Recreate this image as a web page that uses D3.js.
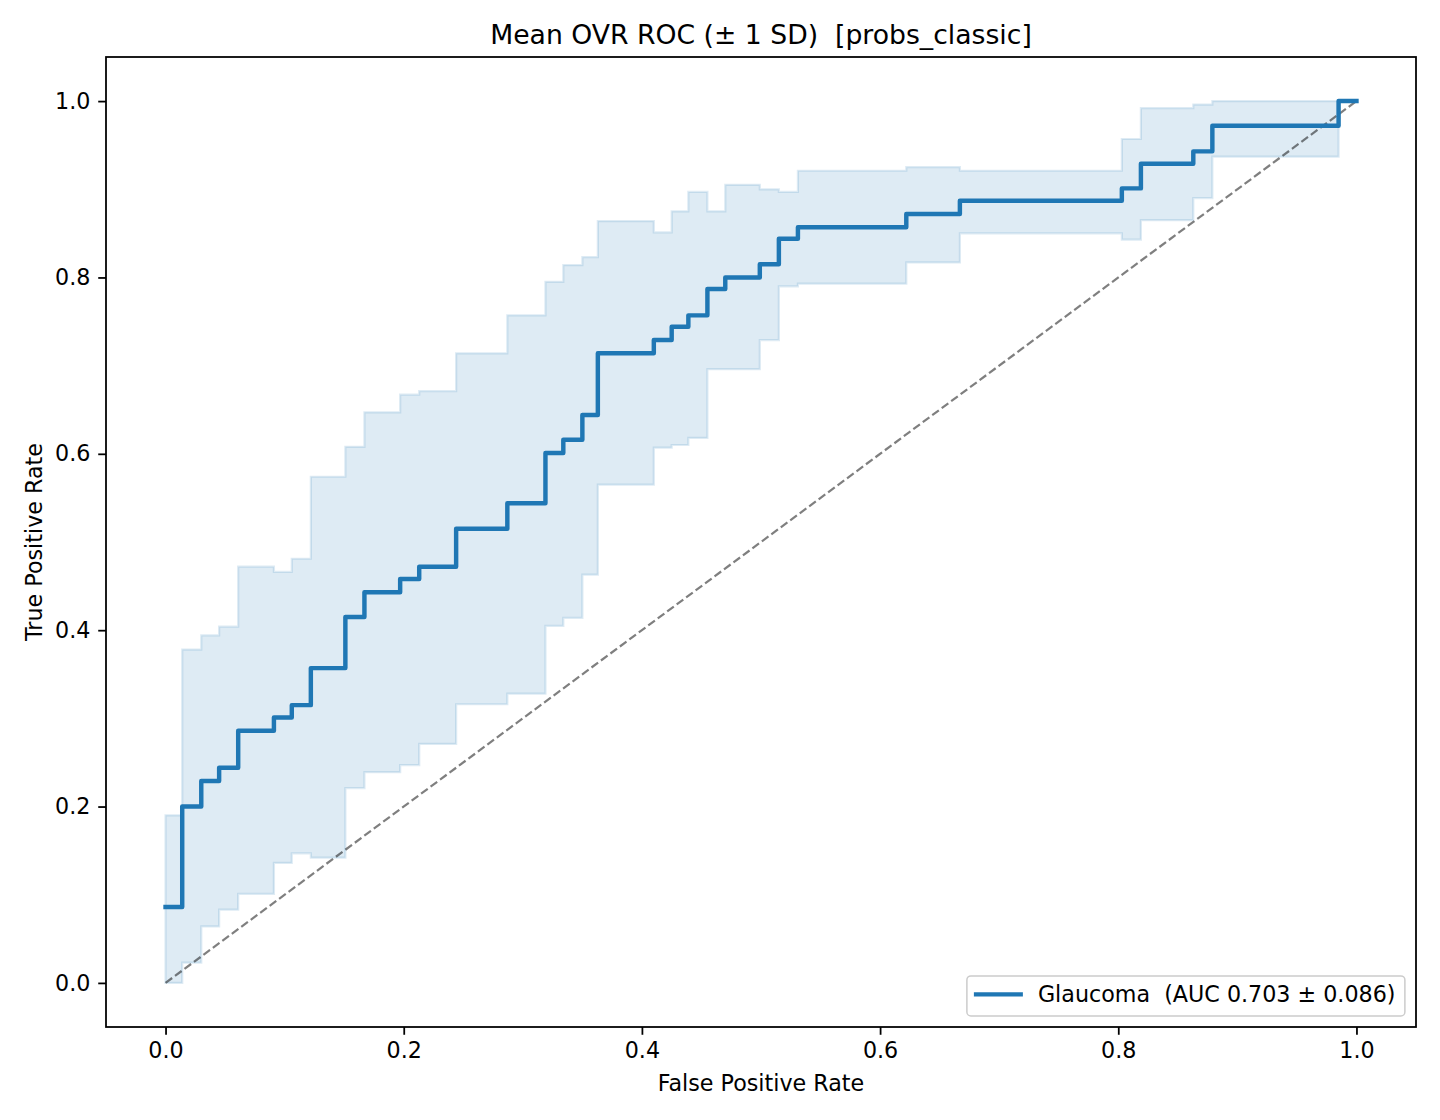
<!DOCTYPE html>
<html>
<head>
<meta charset="utf-8">
<script src="https://cdn.jsdelivr.net/npm/d3@7"></script>
<style>
  html, body { margin: 0; padding: 0; background: #fff; }
  svg { display: block; font-family: 'DejaVu Sans', sans-serif; }
  text { white-space: pre; }
</style>
</head>
<body>
<svg id="chart" width="1440" height="1120"></svg>
<script>
// values (mean ROC on the common FPR grid, step-wise)
const fprBreaks = [
  0.000, 0.014, 0.030, 0.045, 0.061, 0.091, 0.106, 0.122, 0.151, 0.167,
  0.197, 0.213, 0.244, 0.287, 0.319, 0.334, 0.350, 0.363, 0.410, 0.425,
  0.439, 0.455, 0.470, 0.499, 0.515, 0.531, 0.622, 0.667, 0.803, 0.819,
  0.863, 0.879, 0.985, 1.000
];
const tprMean = [
  0.086, 0.200, 0.229, 0.244, 0.286, 0.301, 0.315, 0.357, 0.415, 0.443,
  0.458, 0.472, 0.515, 0.544, 0.601, 0.616, 0.644, 0.714, 0.729, 0.744,
  0.757, 0.787, 0.800, 0.815, 0.844, 0.857, 0.872, 0.887, 0.901, 0.929,
  0.943, 0.972, 1.000, 1.000
];
const tprUpper = [
  0.190, 0.378, 0.394, 0.404, 0.472, 0.466, 0.481, 0.574, 0.608, 0.647,
  0.667, 0.671, 0.714, 0.757, 0.795, 0.814, 0.823, 0.864, 0.851, 0.875,
  0.897, 0.875, 0.905, 0.900, 0.897, 0.921, 0.925, 0.921, 0.957, 0.992,
  0.996, 1.000, 1.000, 1.000
];
const tprLower = [
  0.000, 0.023, 0.064, 0.083, 0.101, 0.136, 0.147, 0.142, 0.221, 0.239,
  0.247, 0.271, 0.316, 0.328, 0.405, 0.414, 0.463, 0.565, 0.607, 0.610,
  0.618, 0.696, 0.696, 0.729, 0.790, 0.793, 0.817, 0.850, 0.843, 0.865,
  0.890, 0.937, 1.000, 1.000
];
const chanceLine = [0, 1];

const xTicks = [0.0, 0.2, 0.4, 0.6, 0.8, 1.0];
const yTicks = [0.0, 0.2, 0.4, 0.6, 0.8, 1.0];

const titleText = 'Mean OVR ROC (\u00b1 1 SD)  [probs_classic]';
const xLabel = 'False Positive Rate';
const yLabel = 'True Positive Rate';
const legendLabel = 'Glaucoma  (AUC 0.703 \u00b1 0.086)';

const blue = '#1f77b4';
const pt = 160 / 72; // figure was 160 dpi
const fontSize = 10 * pt;

const margin = { top: 57, right: 24, bottom: 93, left: 106 };
const W = 1440;
const H = 1120;

const svg = d3.select('#chart');

const x = d3.scaleLinear().domain([-0.05, 1.05]).range([margin.left, W - margin.right]);
const y = d3.scaleLinear().domain([-0.05, 1.05]).range([H - margin.bottom, margin.top]);

const rocData = fprBreaks.map((f, i) => ({
  fpr: f,
  mean: tprMean[i],
  hi: tprUpper[i],
  lo: tprLower[i]
}));

function drawBand() {
  const area = d3
    .area()
    .curve(d3.curveStepAfter)
    .x(d => x(d.fpr))
    .y0(d => y(d.lo))
    .y1(d => y(d.hi));

  svg
    .append('path')
    .datum(rocData)
    .attr('d', area)
    .attr('fill', blue)
    .attr('fill-opacity', 0.15)
    .attr('stroke', blue)
    .attr('stroke-opacity', 0.15)
    .attr('stroke-width', 1 * pt);
}

function drawChance() {
  svg
    .append('line')
    .attr('x1', x(chanceLine[0]))
    .attr('y1', y(chanceLine[0]))
    .attr('x2', x(chanceLine[1]))
    .attr('y2', y(chanceLine[1]))
    .attr('stroke', '#000')
    .attr('stroke-opacity', 0.5)
    .attr('stroke-width', 1 * pt)
    .attr('stroke-dasharray', `${3.7 * pt} ${1.6 * pt}`);
}

function drawMean() {
  const line = d3
    .line()
    .curve(d3.curveStepAfter)
    .x(d => x(d.fpr))
    .y(d => y(d.mean));

  svg
    .append('path')
    .datum(rocData)
    .attr('d', line)
    .attr('fill', 'none')
    .attr('stroke', blue)
    .attr('stroke-width', 2 * pt)
    .attr('stroke-linejoin', 'round')
    .attr('stroke-linecap', 'square');
}

function drawAxes() {
  const tickLen = 3.5 * pt;
  const fmt = d3.format('.1f');

  const axisX = d3.axisBottom(x).tickValues(xTicks).tickFormat(fmt)
    .tickSize(tickLen).tickPadding(tickLen);
  const axisY = d3.axisLeft(y).tickValues(yTicks).tickFormat(fmt)
    .tickSize(tickLen).tickPadding(tickLen);

  const gx = svg.append('g')
    .attr('transform', `translate(0,${H - margin.bottom})`)
    .call(axisX);
  const gy = svg.append('g')
    .attr('transform', `translate(${margin.left},0)`)
    .call(axisY);

  [gx, gy].forEach(g => {
    g.select('.domain').remove();
    g.selectAll('line').attr('stroke', '#000').attr('stroke-width', 0.8 * pt);
    g.selectAll('text')
      .attr('fill', '#000')
      .style('font-family', "'DejaVu Sans', sans-serif")
      .style('font-size', `${fontSize}px`);
  });

  // frame (four spines)
  svg
    .append('rect')
    .attr('x', margin.left)
    .attr('y', margin.top)
    .attr('width', W - margin.left - margin.right)
    .attr('height', H - margin.top - margin.bottom)
    .attr('fill', 'none')
    .attr('stroke', '#000')
    .attr('stroke-width', 0.8 * pt);

  const cx = (margin.left + W - margin.right) / 2;
  const cy = (margin.top + H - margin.bottom) / 2;

  svg.append('text')
    .attr('x', cx)
    .attr('y', 1091)
    .attr('text-anchor', 'middle')
    .style('font-size', `${fontSize}px`)
    .text(xLabel);

  svg.append('text')
    .attr('transform', `translate(42,${cy}) rotate(-90)`)
    .attr('text-anchor', 'middle')
    .style('font-size', `${fontSize}px`)
    .text(yLabel);

  svg.append('text')
    .attr('x', cx)
    .attr('y', margin.top - 6 * pt)
    .attr('text-anchor', 'middle')
    .style('font-size', `${12 * pt}px`)
    .text(titleText);
}

function drawLegend() {
  const pad = 0.5 * fontSize;
  const boxW = 438;
  const boxH = 40;
  const right = W - margin.right - pad;
  const bottom = H - margin.bottom - pad;
  const g = svg.append('g').attr('transform', `translate(${right - boxW},${bottom - boxH})`);

  g.append('rect')
    .attr('width', boxW)
    .attr('height', boxH)
    .attr('rx', 4)
    .attr('fill', '#fff')
    .attr('fill-opacity', 0.8)
    .attr('stroke', '#cccccc')
    .attr('stroke-width', 1.5);

  g.append('line')
    .attr('x1', 7)
    .attr('x2', 56)
    .attr('y1', boxH / 2 - 1.5)
    .attr('y2', boxH / 2 - 1.5)
    .attr('stroke', blue)
    .attr('stroke-width', 2 * pt);

  g.append('text')
    .attr('x', 71)
    .attr('y', boxH / 2 + 6.5)
    .style('font-size', `${fontSize}px`)
    .text(legendLabel);
}

drawBand();
drawChance();
drawMean();
drawAxes();
drawLegend();
</script>
</body>
</html>
